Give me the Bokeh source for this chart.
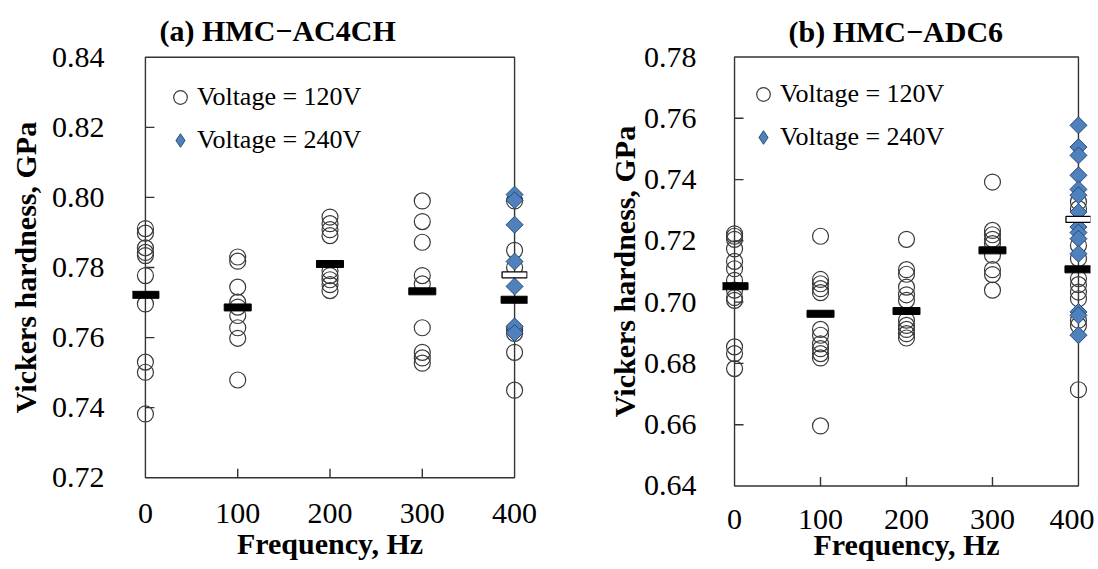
import numpy as np
from bokeh.plotting import figure
from bokeh.models import Range1d, FixedTicker, PrintfTickFormatter, Legend, LegendItem
from bokeh.layouts import row
from bokeh.embed import file_html
from bokeh.resources import INLINE

# ---------------- data ----------------
freqs = [0, 100, 200, 300, 400]

# (a) HMC-AC4CH
a_title = "(a) HMC\u2212AC4CH"
a_yticks = [0.72, 0.74, 0.76, 0.78, 0.80, 0.82, 0.84]
a_v120_0 = [0.7911, 0.7898, 0.7856, 0.7843, 0.7834, 0.7777, 0.7696, 0.7530, 0.7501, 0.7382]
a_v120_100 = [0.7830, 0.7818, 0.7744, 0.7701, 0.7687, 0.7663, 0.7628, 0.7598, 0.7479]
a_v120_200 = [0.7944, 0.7925, 0.7908, 0.7891, 0.7791, 0.7777, 0.7765, 0.7751, 0.7734]
a_v120_300 = [0.7990, 0.7931, 0.7872, 0.7777, 0.7753, 0.7628, 0.7558, 0.7542, 0.7527]
a_v120_400 = [0.7990, 0.7849, 0.7800, 0.7622, 0.7612, 0.7558, 0.7450]
a_v240_400 = [0.8008, 0.7992, 0.7922, 0.7817, 0.7746, 0.7632, 0.7613]
a_mean_v120 = [0.7722, 0.7686, 0.7810, 0.7732, 0.7708]
a_mean_v240 = [0.7779]

# (b) HMC-ADC6
b_title = "(b) HMC\u2212ADC6"
b_yticks = [0.64, 0.66, 0.68, 0.70, 0.72, 0.74, 0.76, 0.78]
b_v120_0 = [0.7223, 0.7215, 0.7205, 0.7174, 0.7133, 0.7109, 0.7071, 0.7039, 0.7015, 0.7006, 0.6854, 0.6832, 0.6783]
b_v120_100 = [0.7215, 0.7074, 0.7060, 0.7044, 0.7031, 0.6911, 0.6892, 0.6864, 0.6848, 0.6832, 0.6818, 0.6596]
b_v120_200 = [0.7205, 0.7106, 0.7091, 0.7049, 0.7024, 0.7006, 0.6941, 0.6924, 0.6911, 0.6897, 0.6883]
b_v120_300 = [0.7392, 0.7234, 0.7220, 0.7205, 0.7191, 0.7153, 0.7106, 0.7090, 0.7039]
b_v120_400 = [0.7327, 0.7305, 0.7185, 0.7142, 0.7077, 0.7057, 0.7033, 0.7011, 0.6941, 0.6924, 0.6714]
b_v240_400 = [0.7577, 0.7506, 0.7479, 0.7414, 0.7368, 0.7349, 0.7294, 0.7245, 0.7227, 0.7207, 0.7158, 0.6968, 0.6957, 0.6892]
b_mean_v120 = [0.7052, 0.6962, 0.6971, 0.7169, 0.7107]
b_mean_v240 = [0.7270]

labels = ["Voltage = 120V", "Voltage = 240V"]

FONT = "Liberation Serif"
LINE = "#333333"
BLUE = "#4F81BD"
BLUE_EDGE = "#2A4A78"


def make_panel(title, yticks, v120_lists, v240, m120, m240, g):
    xs, ys = [], []
    for f, vals in zip(freqs, v120_lists):
        xs += [f] * len(vals)
        ys += vals
    p = figure(
        frame_width=g["fw"], frame_height=g["fh"],
        x_range=Range1d(freqs[0] - g["xpad"], freqs[-1] + g["xpad"]),
        y_range=Range1d(yticks[0] - g["ypad"], yticks[-1] + g["ypad"]),
        min_border_left=g["left"], min_border_right=g["right"],
        min_border_top=g["top"], min_border_bottom=g["bottom"],
        output_backend="svg", toolbar_location=None, title=title,
    )
    p.outline_line_color = None
    p.xgrid.visible = False
    p.ygrid.visible = False

    t = p.title
    t.align = "left"
    t.offset = g["toff"]
    t.standoff = g["tstand"]
    t.text_font = FONT
    t.text_font_size = "30px"
    t.text_font_style = "bold"
    t.text_color = "black"

    xa = p.xaxis[0]
    xa.ticker = FixedTicker(ticks=freqs)
    xa.axis_line_color = None
    xa.major_tick_line_color = None
    xa.minor_tick_line_color = None
    xa.major_label_standoff = g["xls"]
    xa.major_label_text_font = FONT
    xa.major_label_text_font_size = "30px"
    xa.major_label_text_color = "black"
    xa.axis_label = "Frequency, Hz"
    xa.axis_label_text_font = FONT
    xa.axis_label_text_font_size = "30px"
    xa.axis_label_text_font_style = "bold"
    xa.axis_label_text_color = "black"
    xa.axis_label_standoff = g["xals"]

    ya = p.yaxis[0]
    ya.ticker = FixedTicker(ticks=yticks)
    ya.formatter = PrintfTickFormatter(format="%.2f")
    ya.axis_line_color = None
    ya.major_tick_line_color = None
    ya.minor_tick_line_color = None
    ya.major_label_standoff = g["yls"]
    ya.major_label_text_font = FONT
    ya.major_label_text_font_size = "30px"
    ya.major_label_text_color = "black"
    ya.axis_label = "Vickers hardness, GPa"
    ya.axis_label_text_font = FONT
    ya.axis_label_text_font_size = "30px"
    ya.axis_label_text_font_style = "bold"
    ya.axis_label_text_color = "black"
    ya.axis_label_standoff = g["yals"]

    # plot box and inward ticks
    p.quad(left=[freqs[0]], right=[freqs[-1]], bottom=[yticks[0]], top=[yticks[-1]],
           fill_color=None, line_color=LINE, line_width=1.4)
    inner_y = yticks[1:-1]
    p.ray(x=[freqs[0]] * len(inner_y), y=inner_y, length=9, length_units="screen",
          angle=0, line_color=LINE, line_width=1.4)
    inner_x = freqs[1:-1]
    p.ray(x=inner_x, y=[yticks[0]] * len(inner_x), length=9, length_units="screen",
          angle=np.pi / 2, line_color=LINE, line_width=1.4)

    rc = p.scatter(xs, ys, marker="circle", size=16, fill_color=None,
                   line_color="#3a3a3a", line_width=1.2)
    x240 = [freqs[-1]] * len(v240)
    p.scatter(x240, v240, marker="square", angle=np.pi / 4,
              size=12, fill_color=BLUE, line_color=BLUE_EDGE, line_width=1.0)
    # legend proxy (size 0 on the plot; the legend draws its own glyph size)
    rd_leg = p.scatter(x240, v240, marker="diamond", size=0,
                       fill_color=BLUE, line_color=BLUE_EDGE, line_width=1.0)

    p.rect(x=freqs, y=m120, width=27, height=7, width_units="screen", height_units="screen",
           fill_color="black", line_color="black")
    p.rect(x=[freqs[-1]], y=m240, width=25, height=6, width_units="screen", height_units="screen",
           fill_color="white", line_color="black", line_width=1.3)

    leg = Legend(
        items=[LegendItem(label=labels[0], renderers=[rc]),
               LegendItem(label=labels[1], renderers=[rd_leg])],
        location=(g["lx"], g["ly"]), margin=0, padding=0, spacing=3,
        glyph_width=34, glyph_height=40, label_height=40, label_standoff=0,
        border_line_color=None, background_fill_alpha=0,
        label_text_font=FONT, label_text_font_size="26px", label_text_color="black",
    )
    p.add_layout(leg)
    return p


ga = dict(fw=395, fh=424, xpad=14, ypad=0.0005, left=132, right=18, top=55, bottom=87,
          toff=27, tstand=18, xls=18, xals=1, yls=22, yals=7, lx=31, ly=319)
gb = dict(fw=368, fh=432, xpad=14, ypad=0.0005, left=177, right=4, top=54, bottom=80,
          toff=66, tstand=16, xls=16, xals=-4, yls=20, yals=0, lx=24, ly=330)

pa = make_panel(a_title, a_yticks,
                [a_v120_0, a_v120_100, a_v120_200, a_v120_300, a_v120_400],
                a_v240_400, a_mean_v120, a_mean_v240, ga)
pb = make_panel(b_title, b_yticks,
                [b_v120_0, b_v120_100, b_v120_200, b_v120_300, b_v120_400],
                b_v240_400, b_mean_v120, b_mean_v240, gb)

layout = row(pa, pb)
open("out.html", "w").write(file_html(layout, INLINE))
